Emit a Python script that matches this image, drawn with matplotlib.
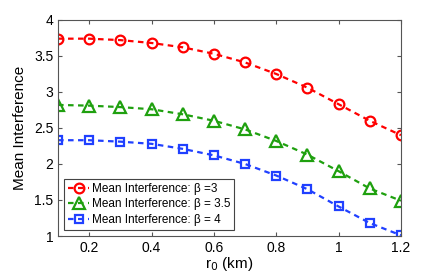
import matplotlib.pyplot as plt
import numpy as np

plt.rcParams['font.family'] = ['Liberation Sans', 'DejaVu Sans']

r0 = [0.1, 0.2, 0.3, 0.4, 0.5, 0.6, 0.7, 0.8, 0.9, 1.0, 1.1, 1.2]
beta3 = [3.74, 3.74, 3.72, 3.68, 3.62, 3.53, 3.41, 3.25, 3.06, 2.83, 2.60, 2.40]
beta35 = [2.82, 2.81, 2.79, 2.76, 2.69, 2.60, 2.48, 2.32, 2.13, 1.90, 1.66, 1.49]
beta4 = [2.33, 2.33, 2.31, 2.28, 2.21, 2.12, 2.00, 1.84, 1.65, 1.41, 1.18, 1.01]

fig = plt.figure(figsize=(4.43, 2.77), dpi=100)
ax = fig.add_axes([0.131, 0.148, 0.774, 0.78])

ax.plot(r0, beta3, '--o', color='#ff0000', mfc='none', mew=1.6, ms=7, lw=1.6,
        dashes=(2.5, 2), label='Mean Interference: β =3')
ax.plot(r0, beta35, '--^', color='#1fa00f', mfc='none', mew=1.6, ms=8, lw=1.6,
        dashes=(2.5, 2), label='Mean Interference: β = 3.5')
ax.plot(r0, beta4, '--s', color='#2040ff', mfc='none', mew=1.6, ms=6, lw=1.6,
        dashes=(2.5, 2), label='Mean Interference: β = 4')

ax.set_xlim(0.1, 1.2)
ax.set_ylim(1, 4)
ax.set_xticks([0.2, 0.4, 0.6, 0.8, 1, 1.2])
ax.set_xticklabels(['0.2', '0.4', '0.6', '0.8', '1', '1.2'])
ax.set_yticks([1, 1.5, 2, 2.5, 3, 3.5, 4])
ax.set_yticklabels(['1', '1.5', '2', '2.5', '3', '3.5', '4'])
ax.tick_params(direction='in', top=True, right=True, labelsize=10, length=3, color='#555555')
for s in ax.spines.values():
    s.set_color('#555555')
    s.set_linewidth(0.8)

ax.set_xlabel('r$_0$ (km)', fontsize=11, labelpad=0)
ax.set_ylabel('Mean Interference', fontsize=11, labelpad=5)

leg = ax.legend(loc='lower left', fontsize=8.5, fancybox=False, edgecolor='#444444',
                handlelength=1.8, handletextpad=0.2, borderpad=0.35, labelspacing=0.3,
                borderaxespad=0.5, framealpha=1)
leg.get_frame().set_linewidth(0.8)

fig.savefig('out.png', dpi=100)
